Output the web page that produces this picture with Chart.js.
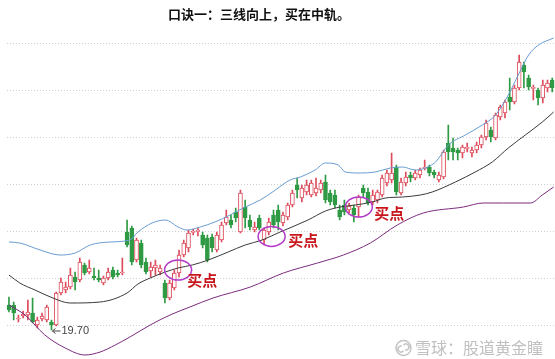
<!DOCTYPE html>
<html>
<head>
<meta charset="utf-8">
<script src="https://cdn.jsdelivr.net/npm/chart.js@4.4.0/dist/chart.umd.min.js"></script>
<style>
  html, body { margin: 0; padding: 0; background: #fff; }
  #chart { display: block; }
</style>
</head>
<body>
<canvas id="chart" width="555" height="359"></canvas>
<script>
// daily K-line data
const opens = [
  20.95, 20.95, 20.25, 20.40, 20.45, 20.55, 19.95, 20.25, 20.20, 20.10,
  19.95, 21.55, 21.70, 21.85, 22.35, 22.20, 22.95, 22.60, 22.40, 22.30,
  22.05, 22.30, 22.70, 22.55, 22.55, 24.60, 24.80, 23.20, 24.05, 23.10,
  22.65, 22.80, 22.60, 22.05, 21.30, 21.80, 22.55, 23.45, 23.80, 24.58,
  24.63, 24.45, 24.30, 24.35, 23.70, 24.20, 25.05, 25.20, 25.60, 24.60,
  25.85, 25.20, 24.70, 25.30, 24.20, 24.60, 25.45, 25.70, 25.05, 25.35,
  25.95, 26.95, 26.30, 26.60, 26.45, 26.55, 26.70, 27.10, 26.55, 26.45,
  25.70, 25.95, 25.70, 25.80, 25.85, 26.80, 26.60, 26.10, 26.20, 26.45,
  27.05, 27.20, 27.85, 26.55, 27.05, 27.45, 27.30, 27.45, 27.78, 27.85,
  27.60, 27.20, 27.35, 29.05, 28.80, 28.70, 28.55, 28.78, 28.55, 28.70,
  28.95, 29.35, 29.70, 29.30, 30.35, 30.55, 31.35, 31.10, 31.80, 32.95,
  32.30, 31.78, 31.70, 31.30, 31.80, 32.20
];
const closes = [
  20.70, 20.55, 20.30, 20.50, 20.60, 20.10, 20.20, 20.40, 20.85, 19.95,
  21.55, 22.10, 21.85, 22.45, 22.10, 23.10, 22.55, 22.80, 22.30, 22.20,
  22.30, 22.60, 22.35, 22.45, 22.60, 23.95, 23.10, 24.20, 22.95, 22.60,
  22.85, 22.95, 22.80, 21.30, 22.05, 22.55, 23.45, 24.05, 24.55, 24.62,
  24.67, 23.95, 23.20, 23.80, 24.45, 24.95, 25.35, 24.95, 25.30, 26.55,
  25.30, 24.85, 24.85, 24.80, 24.70, 25.10, 24.95, 25.10, 25.45, 25.95,
  26.55, 26.70, 26.80, 26.95, 27.05, 26.80, 27.05, 26.20, 26.10, 25.95,
  25.35, 25.60, 25.90, 25.45, 26.35, 26.55, 26.05, 26.45, 26.60, 27.30,
  27.55, 27.55, 26.60, 27.10, 27.35, 27.30, 27.55, 27.70, 27.82, 27.55,
  27.45, 27.45, 28.60, 28.60, 28.60, 28.55, 28.85, 28.82, 28.70, 28.95,
  29.35, 30.05, 29.35, 30.45, 30.85, 31.10, 31.10, 31.80, 33.10, 32.60,
  31.85, 31.82, 31.30, 31.95, 32.05, 31.80
];
const highs = [
  21.35, 21.10, 20.45, 20.65, 21.20, 21.30, 20.35, 20.55, 20.95, 20.20,
  21.60, 22.30, 22.10, 22.80, 22.60, 23.30, 23.05, 23.20, 22.80, 22.70,
  22.40, 22.80, 22.85, 22.70, 23.30, 25.20, 24.90, 24.30, 24.20, 23.30,
  23.10, 23.20, 22.95, 22.20, 22.20, 22.70, 23.70, 24.20, 24.70, 24.75,
  24.80, 24.60, 24.45, 24.50, 24.60, 25.10, 25.70, 25.45, 25.80, 26.70,
  26.20, 25.45, 25.10, 25.45, 24.80, 25.30, 25.70, 25.95, 25.60, 26.05,
  26.70, 27.30, 26.95, 27.20, 27.20, 27.30, 27.20, 27.45, 26.70, 26.70,
  25.95, 26.20, 26.05, 25.95, 26.45, 26.95, 26.80, 26.70, 26.70, 27.45,
  27.70, 28.55, 27.95, 27.30, 27.60, 27.60, 27.70, 27.80, 28.20, 27.95,
  27.70, 27.60, 28.70, 29.95, 29.30, 28.80, 28.95, 29.05, 28.85, 29.10,
  29.45, 30.20, 29.85, 30.55, 30.95, 31.20, 32.30, 31.95, 33.45, 33.10,
  32.45, 31.95, 31.80, 32.20, 32.20, 32.30
];
const lows = [
  20.60, 20.20, 20.10, 20.30, 20.20, 20.05, 19.80, 20.15, 20.10, 19.70,
  19.90, 21.45, 21.55, 21.75, 21.70, 22.10, 22.45, 22.50, 22.20, 22.10,
  21.95, 22.20, 22.25, 22.35, 22.45, 23.85, 22.95, 23.10, 22.80, 22.50,
  22.35, 22.45, 22.45, 21.05, 21.20, 21.70, 22.35, 23.35, 23.60, 24.45,
  24.40, 23.80, 23.10, 23.60, 23.60, 24.10, 24.95, 24.80, 25.10, 24.55,
  24.80, 24.70, 24.60, 24.70, 23.95, 24.45, 24.80, 24.70, 24.90, 25.20,
  25.85, 26.30, 26.10, 26.45, 26.35, 26.40, 26.55, 26.05, 25.95, 25.80,
  25.20, 25.45, 25.55, 25.10, 25.35, 26.35, 25.95, 25.95, 26.05, 26.35,
  26.90, 27.05, 26.45, 26.45, 26.90, 27.10, 27.20, 27.30, 27.70, 27.40,
  27.30, 27.10, 27.25, 28.20, 28.20, 28.20, 28.30, 28.60, 28.35, 28.55,
  28.80, 29.20, 29.10, 29.20, 30.20, 30.30, 30.70, 31.00, 31.70, 31.80,
  31.70, 31.20, 30.95, 31.05, 31.60, 31.60
];
const days = opens.map((_, i) => String(i + 1));

// Bollinger bands: [day index, price]
const upperBand = [
  [0, 24.10], [2.3, 24.05], [6.6, 23.70], [10.8, 23.45], [14.0, 23.55], [17.2, 23.95],
  [21.4, 24.10], [25.6, 24.20], [27.3, 24.60], [30.3, 25.05], [33.1, 25.20], [35.8, 24.85],
  [37.7, 24.70], [40.5, 24.85], [43.6, 25.10], [46.8, 25.45], [50.0, 25.85], [53.2, 26.20],
  [56.4, 26.70], [59.5, 27.20], [61.7, 27.35], [64.8, 27.70], [67.0, 28.05], [69.7, 27.95],
  [71.2, 27.60], [74.4, 27.55], [77.5, 27.60], [80.7, 27.80], [83.3, 27.85], [86.0, 27.70],
  [88.1, 27.80], [90.3, 28.10], [93.0, 28.95], [96.6, 29.45], [100.2, 29.95], [103.0, 30.45],
  [105.7, 31.45], [107.8, 32.45], [110.0, 33.45], [112.1, 33.95], [115.3, 34.30]
];
const middleBand = [
  [0, 22.45], [2.3, 22.05], [5.5, 21.70], [9.3, 21.30], [12.9, 21.05], [19.3, 21.10],
  [25.0, 21.55], [27.3, 22.00], [29.9, 22.30], [33.1, 22.60], [35.8, 22.80], [38.8, 22.95],
  [42.2, 23.20], [46.4, 23.60], [50.0, 23.95], [53.6, 24.20], [57.4, 24.60], [63.3, 25.20],
  [67.0, 25.65], [70.1, 25.85], [73.3, 25.95], [76.9, 26.10], [79.7, 26.30], [83.3, 26.35],
  [87.1, 26.45], [89.6, 26.60], [94.5, 27.10], [98.7, 27.60], [102.3, 28.10], [105.7, 28.80],
  [109.3, 29.45], [112.9, 30.10], [115.3, 30.60]
];
const lowerBand = [
  [0, 20.95], [3.4, 20.45], [7.6, 19.45], [11.9, 18.80], [16.1, 18.45], [19.3, 18.60],
  [22.5, 18.95], [25.6, 19.35], [29.9, 19.95], [34.1, 20.45], [38.3, 20.85], [43.2, 21.30],
  [51.1, 21.85], [58.1, 22.55], [65.3, 23.05], [70.8, 23.45], [76.5, 24.05], [82.2, 24.95],
  [87.7, 25.55], [96.2, 25.85], [100.4, 26.05], [104.7, 26.05], [110.4, 26.05], [112.9, 26.45],
  [115.3, 26.85]
];

const gridTicks = [19.95, 22.30, 24.65, 27.00, 29.35, 31.70, 34.05];

// annotations (data coords)
const buyCircles = [[35.8, 22.70], [55.6, 24.38], [74.05, 25.85]];
const buyLabels = [[40.9, 22.20], [62.3, 24.20], [80.5, 25.55]];
const lowMark = { index: 9, text: '19.70' };

const RED = '#dd4b5b';
const GREEN = '#2f9a44';
const up = closes.map((c, i) => c >= opens[i]);

function band(points, color) {
  return {
    type: 'line',
    data: points.map(([x, y]) => ({ x: x, y: y })),
    xAxisID: 'xl',
    borderColor: color,
    borderWidth: 1,
    pointRadius: 0,
    cubicInterpolationMode: 'monotone',
    order: -1
  };
}

const overlay = {
  id: 'overlay',
  afterDatasetsDraw(chart) {
    const ctx = chart.ctx;
    const xl = chart.scales.xl;
    const y = chart.scales.y;
    ctx.save();
    ctx.strokeStyle = '#b43cc8';
    ctx.lineWidth = 1.5;
    buyCircles.forEach(([i, p]) => {
      ctx.beginPath();
      ctx.ellipse(xl.getPixelForValue(i), y.getPixelForValue(p), 13.5, 10, 0, 0, Math.PI * 2);
      ctx.stroke();
    });
    ctx.fillStyle = '#c8161d';
    ctx.font = 'bold 15px "Noto Sans CJK SC"';
    ctx.textAlign = 'center';
    ctx.textBaseline = 'middle';
    buyLabels.forEach(([i, p]) => {
      ctx.fillText('买点', xl.getPixelForValue(i), y.getPixelForValue(p));
    });
    // low price mark
    const lx = xl.getPixelForValue(lowMark.index);
    const ly = y.getPixelForValue(lows[lowMark.index]) + 1;
    ctx.fillStyle = '#444';
    ctx.strokeStyle = '#444';
    ctx.lineWidth = 1;
    ctx.beginPath();
    ctx.moveTo(lx + 1, ly);
    ctx.lineTo(lx + 9, ly);
    ctx.moveTo(lx + 1, ly);
    ctx.lineTo(lx + 4, ly - 2.5);
    ctx.moveTo(lx + 1, ly);
    ctx.lineTo(lx + 4, ly + 2.5);
    ctx.stroke();
    ctx.font = '11px "Liberation Sans"';
    ctx.textAlign = 'left';
    ctx.fillText(lowMark.text, lx + 10, ly);
    ctx.restore();
  },
  afterDraw(chart) {
    const ctx = chart.ctx;
    ctx.save();
    ctx.fillStyle = '#111';
    ctx.font = 'bold 13px "Noto Sans CJK SC"';
    ctx.textAlign = 'center';
    ctx.textBaseline = 'middle';
    ctx.fillText('口诀一：三线向上，买在中轨。', 259, 14);

    // watermark
    ctx.strokeStyle = '#c4c4c4';
    ctx.lineWidth = 1.5;
    ctx.beginPath();
    ctx.arc(403.5, 348, 7.5, 0, Math.PI * 2);
    ctx.stroke();
    ctx.beginPath();
    ctx.arc(401, 349, 3, Math.PI * 0.2, Math.PI * 1.6);
    ctx.stroke();
    ctx.beginPath();
    ctx.arc(406, 347, 3, Math.PI * 1.2, Math.PI * 0.6);
    ctx.stroke();
    ctx.fillStyle = '#c0c0c0';
    ctx.font = '16px "Noto Sans CJK SC"';
    ctx.textAlign = 'left';
    ctx.fillText('雪球：股道黄金瞳', 415, 348);
    ctx.restore();
  }
};

new Chart(document.getElementById('chart'), {
  type: 'bar',
  data: {
    labels: days,
    datasets: [
      band(upperBand, '#6a9dd0'),
      band(middleBand, '#3a3a3a'),
      band(lowerBand, '#7a2c7e'),
      {
        label: '影线',
        data: lows.map((l, i) => [l, highs[i]]),
        backgroundColor: up.map(u => u ? RED : GREEN),
        barThickness: 1,
        grouped: false,
        order: 2
      },
      {
        label: 'K线',
        data: opens.map((o, i) => [o, closes[i]]),
        backgroundColor: up.map(u => u ? '#ffffff' : GREEN),
        borderColor: up.map(u => u ? RED : GREEN),
        borderWidth: 1,
        borderSkipped: false,
        barThickness: 4,
        minBarLength: 1,
        grouped: false,
        order: 1
      }
    ]
  },
  options: {
    responsive: false,
    devicePixelRatio: 1,
    animation: false,
    layout: { padding: { top: 35, bottom: 2, left: 6.6, right: 0.4 } },
    plugins: {
      legend: { display: false },
      tooltip: { enabled: false },
      title: { display: false }
    },
    scales: {
      x: { type: 'category', display: false, offset: true },
      xl: { type: 'linear', display: false, offset: false, min: -0.5, max: 115.5 },
      y: {
        min: 18.35,
        max: 34.45,
        afterBuildTicks: (scale) => { scale.ticks = gridTicks.map(v => ({ value: v })); },
        ticks: { display: false },
        border: { display: false, dash: [1, 2] },
        grid: { color: '#cfcfcf', drawTicks: false }
      }
    }
  },
  plugins: [overlay]
});
</script>
</body>
</html>
